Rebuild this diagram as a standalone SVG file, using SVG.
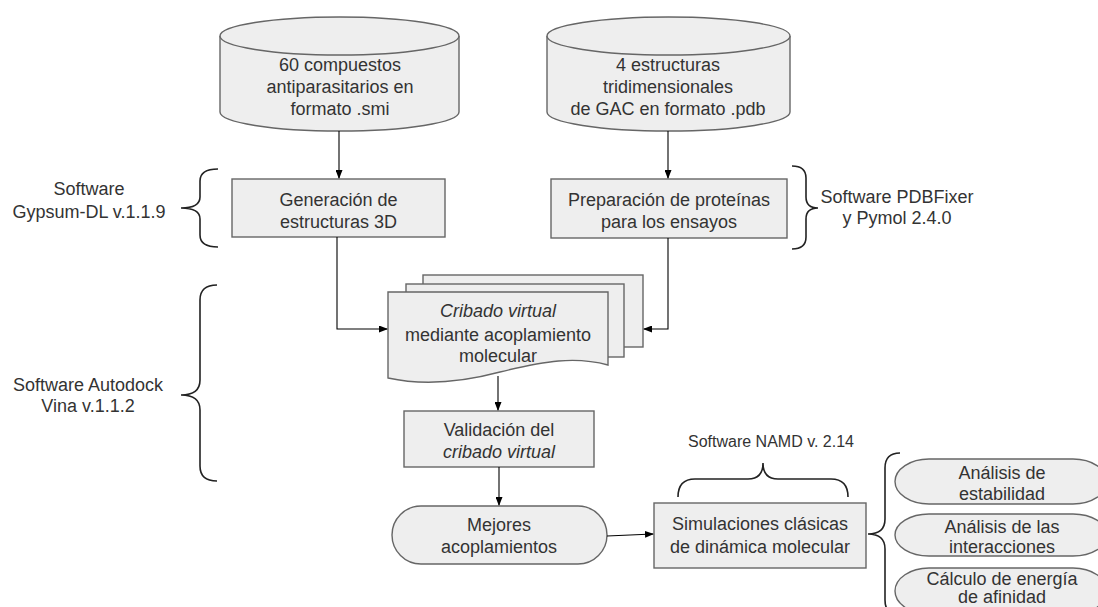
<svg xmlns="http://www.w3.org/2000/svg" width="1098" height="607" viewBox="0 0 1098 607">
<defs>
<style>
.shape{fill:#eeeeee;stroke:#666666;stroke-width:1.4}
.t{font-family:"Liberation Sans",Arial,sans-serif;font-size:18px;fill:#333333;text-anchor:middle}
.i{font-style:italic}
.conn{fill:none;stroke:#000000;stroke-width:1.1}
.brace{fill:none;stroke:#222222;stroke-width:1.6}
</style>
<marker id="arr" markerWidth="9" markerHeight="7" refX="8" refY="3.5" orient="auto" markerUnits="userSpaceOnUse">
<path d="M0,0 L9,3.5 L0,7 Z" fill="#000000"/>
</marker>
</defs>
<rect width="1098" height="607" fill="#ffffff"/>

<g id="cyl1">
<path class="shape" d="M220,36 A119.5,19 0 0 1 459,36 V112 A119.5,19 0 0 1 220,112 Z"/>
<path class="shape" d="M220,36 A119.5,19 0 0 0 459,36" fill="none"/>
<text class="t" x="340" y="71">60 compuestos</text>
<text class="t" x="340" y="93">antiparasitarios en</text>
<text class="t" x="340" y="115">formato .smi</text>
</g>

<g id="cyl2">
<path class="shape" d="M547,36 A121.5,19 0 0 1 790,36 V112 A121.5,19 0 0 1 547,112 Z"/>
<path class="shape" d="M547,36 A121.5,19 0 0 0 790,36" fill="none"/>
<text class="t" x="668" y="71">4 estructuras</text>
<text class="t" x="668" y="93">tridimensionales</text>
<text class="t" x="668" y="115">de GAC en formato .pdb</text>
</g>

<g id="box1">
<rect class="shape" x="232" y="179" width="213" height="58"/>
<text class="t" x="338.5" y="206">Generación de</text>
<text class="t" x="338.5" y="228">estructuras 3D</text>
</g>

<g id="box2">
<rect class="shape" x="551" y="179" width="236" height="59"/>
<text class="t" x="669" y="206">Preparación de proteínas</text>
<text class="t" x="669" y="228">para los ensayos</text>
</g>

<g id="lbl-gypsum">
<text class="t" x="89" y="195">Software</text>
<text class="t" x="89" y="218">Gypsum-DL v.1.1.9</text>
<path class="brace" d="M218,169 Q200,169 200,181 V197 Q200,208 181,208 Q200,208 200,219 V235 Q200,247 218,247"/>
</g>

<g id="lbl-pdb">
<text class="t" x="897" y="203">Software PDBFixer</text>
<text class="t" x="897" y="224">y Pymol 2.4.0</text>
<path class="brace" d="M792,166 Q806,166 806,178 V197 Q806,208 818,208 Q806,208 806,219 V237 Q806,249 792,249"/>
</g>

<g id="docs">
<rect class="shape" x="423" y="275" width="220" height="72"/>
<rect class="shape" x="406" y="284" width="218" height="73"/>
<path class="shape" d="M388,292 H608 V365 C575,356 545,361 500,372 C455,384 420,385 388,378 Z"/>
<text class="t i" x="498" y="317">Cribado virtual</text>
<text class="t" x="498" y="341">mediante acoplamiento</text>
<text class="t" x="498" y="362">molecular</text>
</g>

<g id="lbl-autodock">
<text class="t" x="88" y="391">Software Autodock</text>
<text class="t" x="88" y="412">Vina v.1.1.2</text>
<path class="brace" d="M217,285 Q200,285 200,300 V380 Q200,395 181,395 Q200,395 200,410 V466 Q200,481 217,481"/>
</g>

<g id="box-valid">
<rect class="shape" x="404" y="411" width="190" height="56"/>
<text class="t" x="499" y="436">Validación del</text>
<text class="t i" x="499" y="458">cribado virtual</text>
</g>

<g id="mejores">
<rect class="shape" x="392" y="506" width="215" height="58" rx="29" ry="29"/>
<text class="t" x="499" y="531">Mejores</text>
<text class="t" x="499" y="553">acoplamientos</text>
</g>

<g id="box-sim">
<rect class="shape" x="654" y="503" width="212" height="65"/>
<text class="t" x="760" y="530">Simulaciones clásicas</text>
<text class="t" x="760" y="553">de dinámica molecular</text>
</g>

<g id="lbl-namd">
<text class="t" x="771" y="447" style="font-size:16px">Software NAMD v. 2.14</text>
<path class="brace" d="M678,497 Q678,479 695,479 H748 Q763,479 763,463 Q763,479 778,479 H831 Q848,479 848,497"/>
</g>

<g id="brace-results">
<path class="brace" d="M900,453 Q885,453 885,468 V519 Q885,534 868,534 Q885,534 885,549 V600 Q885,615 900,615"/>
</g>

<g id="res1">
<rect class="shape" x="895" y="459" width="212" height="45" rx="34" ry="22.5"/>
<text class="t" x="1002" y="479">Análisis de</text>
<text class="t" x="1002" y="500">estabilidad</text>
</g>
<g id="res2">
<rect class="shape" x="895" y="514" width="212" height="42" rx="34" ry="21"/>
<text class="t" x="1002" y="533">Análisis de las</text>
<text class="t" x="1002" y="553">interacciones</text>
</g>
<g id="res3">
<rect class="shape" x="895" y="568" width="212" height="46" rx="34" ry="23"/>
<text class="t" x="1002" y="585">Cálculo de energía</text>
<text class="t" x="1002" y="603">de afinidad</text>
</g>

<g id="connectors">
<path class="conn" d="M339,131 V178" marker-end="url(#arr)"/>
<path class="conn" d="M668,131 V178" marker-end="url(#arr)"/>
<path class="conn" d="M337,237 V329 H387" marker-end="url(#arr)"/>
<path class="conn" d="M668,238 V329 H644" marker-end="url(#arr)"/>
<path class="conn" d="M498,376 V410" marker-end="url(#arr)"/>
<path class="conn" d="M499,467 V505" marker-end="url(#arr)"/>
<path class="conn" d="M607,536 L653,534" marker-end="url(#arr)"/>
</g>
</svg>
